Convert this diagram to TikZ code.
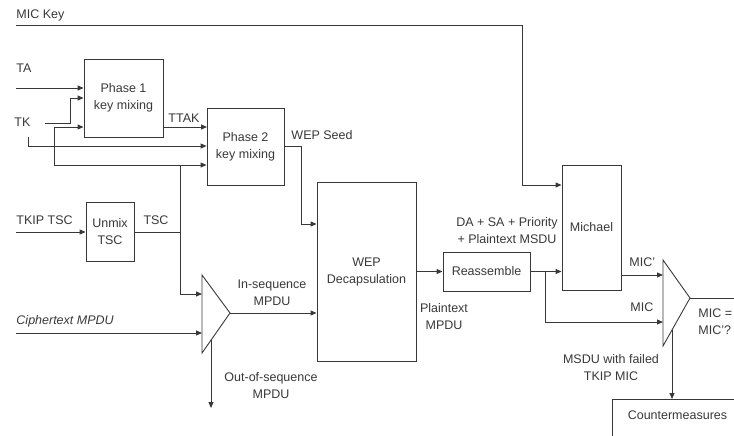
\documentclass[tikz,border=0pt]{standalone}
\usepackage{fontspec}
\setmainfont{Liberation Sans}
\usetikzlibrary{arrows.meta}
\begin{document}
\begin{tikzpicture}[>={Triangle[length=6pt,width=5pt]}, x=1pt, y=-1pt, font=\fontsize{12.5}{17}\selectfont, line width=0.9pt, color=black!78]
        \tikzset{box/.style={draw, align=center, inner sep=1pt}, lbl/.style={align=center, inner sep=0pt}}
        \clip (0,0) rectangle (734,436);
        % blocks
        \node[box, minimum width=79pt, minimum height=78pt] (ph1) at (123.5,98) {Phase 1\\key mixing};
        \node[box, minimum width=77pt, minimum height=77pt] (ph2) at (245.5,146.5) {Phase 2\\key mixing};
        \node[box, minimum width=48pt, minimum height=59pt] (unmix) at (110,232) {Unmix\\TSC};
        \node[box, minimum width=99pt, minimum height=179pt] (wep) at (366.5,271.5) {WEP\\Decapsulation};
        \node[box, minimum width=87pt, minimum height=39pt] (reas) at (486.5,271.5) {Reassemble};
        \node[box, minimum width=59pt, minimum height=125pt] (mich) at (591.5,227.5) {Michael};
        \node[box, anchor=north west, minimum width=130pt, inner ysep=11pt, text depth=14pt] (cm) at (612,399) {Countermeasures};
        % comparators
        \coordinate (c1top) at (202,275);
        \coordinate (c1bot) at (202,353);
        \coordinate (c1tip) at (230,313);
        \coordinate (c2top) at (663,260);
        \coordinate (c2bot) at (663,346);
        \coordinate (c2tip) at (690,298);
        \draw (c1top) -- (c1tip) -- (c1bot) -- cycle;
        \draw (c2top) -- (c2tip) -- (c2bot) -- cycle;
        % labels
        \node[lbl, anchor=west] (lmk) at (16,15) {MIC Key};
        \node[lbl, anchor=west] (lta) at (16,68) {TA};
        \node[lbl, anchor=west] (ltk) at (14,122) {TK};
        \node[lbl] (lttak) at (184,118) {TTAK};
        \node[lbl, anchor=west] (lws) at (291,135) {WEP Seed};
        \node[lbl, anchor=west] (ltkip) at (16,220) {TKIP TSC};
        \node[lbl] (ltsc) at (156,220) {TSC};
        \node[lbl] (lins) at (272,293) {In-sequence\\MPDU};
        \node[lbl, anchor=west] (lct) at (16,321) {\itshape Ciphertext MPDU};
        \node[lbl] (loos) at (271,386) {Out-of-sequence\\MPDU};
        \node[lbl] (lpt) at (444,317) {Plaintext\\MPDU};
        \node[lbl] (lda) at (507,230.5) {DA + SA + Priority\\+ Plaintext MSDU};
        \node[lbl, anchor=west] (lmicp) at (629,262) {MIC'};
        \node[lbl, anchor=west] (lmic) at (630,307) {MIC};
        \node[lbl, anchor=west, align=left] (leq) at (698,322) {MIC =\\MIC'?};
        \node[lbl] (lmsdu) at (611,368) {MSDU with failed\\TKIP MIC};
        % junctions
        \coordinate (mk) at (16,25);
        \coordinate (mkd) at (522,185);
        \coordinate (ta) at (16,88);
        \coordinate (tka) at (45,123);
        \coordinate (tkb) at (70,98);
        \coordinate (tkc) at (28,137);
        \coordinate (tkd) at (28,146);
        \coordinate (ttak) at (207,127);
        \coordinate (tkip) at (16,232);
        \coordinate (tsc) at (180,232);
        \coordinate (tscup) at (180,165);
        \coordinate (tscl) at (54,165);
        \coordinate (tsct) at (54,127);
        \coordinate (c1a) at (202,294);
        \coordinate (ct) at (16,333);
        \coordinate (c1b) at (202,333);
        \coordinate (c1out) at (211,340);
        \coordinate (oos) at (211,408);
        \coordinate (ws1) at (301,146.5);
        \coordinate (ws2) at (301,224);
        \coordinate (ra) at (545,271.5);
        \coordinate (c2a) at (663,275);
        \coordinate (c2b) at (663,322);
        \coordinate (c2out) at (672,330);
        \coordinate (c2end) at (734,298);
        % connectors
        \draw[->] (mk) -| (mkd) -- (mkd -| mich.west);
        \draw[->] (ta) -- (ta -| ph1.west);
        \draw[->] (tka) -| (tkb) -- (tkb -| ph1.west);
        \draw[->] (tkc) -- (tkd) -- (tkd -| ph2.west);
        \draw[->] (ttak -| ph1.east) -- (ttak);
        \draw[->] (tkip) -- (unmix.west);
        \draw (unmix.east) -- (tsc);
        \draw[->] (tsc) -- (tscup) -- (tscup -| ph2.west);
        \draw[->] (tscup) -- (tscl) -- (tsct) -- (tsct -| ph1.west);
        \draw[->] (tsc) |- (c1a);
        \draw[->] (ct) -- (c1b);
        \draw[->] (c1tip) -- (c1tip -| wep.west);
        \draw[->] (c1out) -- (oos);
        \draw[->] (ph2.east) -- (ws1) -- (ws2) -- (ws2 -| wep.west);
        \draw[->] (wep) -- (reas);
        \draw[->] (reas.east) -- (reas.east -| mich.west);
        \draw[->] (ra) |- (c2b);
        \draw[->] (c2a -| mich.east) -- (c2a);
        \draw (c2tip) -- (c2end);
        \draw[->] (c2out) -- (c2out |- cm.north);
    \end{tikzpicture}
\end{document}
